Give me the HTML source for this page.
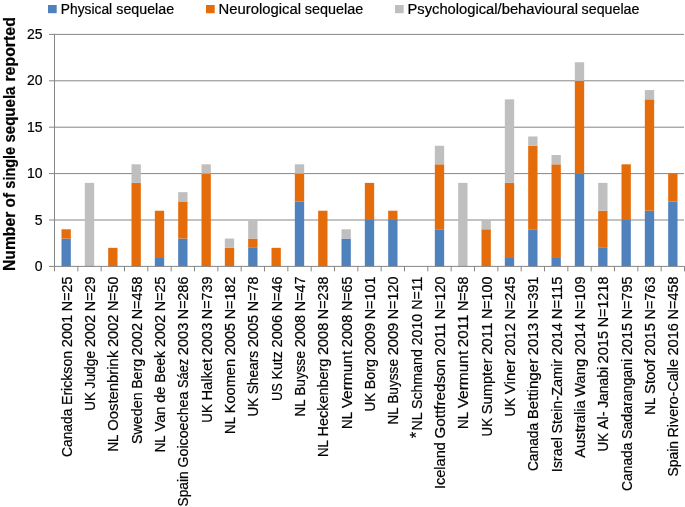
<!DOCTYPE html><html><head><meta charset="utf-8"><style>html,body{margin:0;padding:0;background:#fff;}svg{display:block;will-change:transform;}text{font-family:"Liberation Sans",sans-serif;stroke:#000;stroke-width:0.2;}</style></head><body>
<svg width="685" height="507" viewBox="0 0 685 507">
<rect width="685" height="507" fill="#fff"/>
<line x1="49" y1="220.00" x2="684" y2="220.00" stroke="#868686" stroke-width="1"/>
<line x1="49" y1="173.60" x2="684" y2="173.60" stroke="#868686" stroke-width="1"/>
<line x1="49" y1="127.20" x2="684" y2="127.20" stroke="#868686" stroke-width="1"/>
<line x1="49" y1="80.80" x2="684" y2="80.80" stroke="#868686" stroke-width="1"/>
<line x1="49" y1="34.40" x2="684" y2="34.40" stroke="#868686" stroke-width="1"/>
<rect x="61.50" y="238.56" width="9.33" height="27.84" fill="#4F81BD"/>
<rect x="61.50" y="229.28" width="9.33" height="9.28" fill="#E46C0A"/>
<rect x="84.83" y="182.88" width="9.33" height="83.52" fill="#BFBFBF"/>
<rect x="108.17" y="247.84" width="9.33" height="18.56" fill="#E46C0A"/>
<rect x="131.50" y="182.88" width="9.33" height="83.52" fill="#E46C0A"/>
<rect x="131.50" y="164.32" width="9.33" height="18.56" fill="#BFBFBF"/>
<rect x="154.83" y="257.12" width="9.33" height="9.28" fill="#4F81BD"/>
<rect x="154.83" y="210.72" width="9.33" height="46.40" fill="#E46C0A"/>
<rect x="178.17" y="238.56" width="9.33" height="27.84" fill="#4F81BD"/>
<rect x="178.17" y="201.44" width="9.33" height="37.12" fill="#E46C0A"/>
<rect x="178.17" y="192.16" width="9.33" height="9.28" fill="#BFBFBF"/>
<rect x="201.50" y="173.60" width="9.33" height="92.80" fill="#E46C0A"/>
<rect x="201.50" y="164.32" width="9.33" height="9.28" fill="#BFBFBF"/>
<rect x="224.83" y="247.84" width="9.33" height="18.56" fill="#E46C0A"/>
<rect x="224.83" y="238.56" width="9.33" height="9.28" fill="#BFBFBF"/>
<rect x="248.17" y="247.84" width="9.33" height="18.56" fill="#4F81BD"/>
<rect x="248.17" y="238.56" width="9.33" height="9.28" fill="#E46C0A"/>
<rect x="248.17" y="220.00" width="9.33" height="18.56" fill="#BFBFBF"/>
<rect x="271.50" y="247.84" width="9.33" height="18.56" fill="#E46C0A"/>
<rect x="294.83" y="201.44" width="9.33" height="64.96" fill="#4F81BD"/>
<rect x="294.83" y="173.60" width="9.33" height="27.84" fill="#E46C0A"/>
<rect x="294.83" y="164.32" width="9.33" height="9.28" fill="#BFBFBF"/>
<rect x="318.17" y="210.72" width="9.33" height="55.68" fill="#E46C0A"/>
<rect x="341.50" y="238.56" width="9.33" height="27.84" fill="#4F81BD"/>
<rect x="341.50" y="229.28" width="9.33" height="9.28" fill="#BFBFBF"/>
<rect x="364.83" y="220.00" width="9.33" height="46.40" fill="#4F81BD"/>
<rect x="364.83" y="182.88" width="9.33" height="37.12" fill="#E46C0A"/>
<rect x="388.17" y="220.00" width="9.33" height="46.40" fill="#4F81BD"/>
<rect x="388.17" y="210.72" width="9.33" height="9.28" fill="#E46C0A"/>
<rect x="434.83" y="229.28" width="9.33" height="37.12" fill="#4F81BD"/>
<rect x="434.83" y="164.32" width="9.33" height="64.96" fill="#E46C0A"/>
<rect x="434.83" y="145.76" width="9.33" height="18.56" fill="#BFBFBF"/>
<rect x="458.17" y="182.88" width="9.33" height="83.52" fill="#BFBFBF"/>
<rect x="481.50" y="229.28" width="9.33" height="37.12" fill="#E46C0A"/>
<rect x="481.50" y="220.00" width="9.33" height="9.28" fill="#BFBFBF"/>
<rect x="504.83" y="257.12" width="9.33" height="9.28" fill="#4F81BD"/>
<rect x="504.83" y="182.88" width="9.33" height="74.24" fill="#E46C0A"/>
<rect x="504.83" y="99.36" width="9.33" height="83.52" fill="#BFBFBF"/>
<rect x="528.17" y="229.28" width="9.33" height="37.12" fill="#4F81BD"/>
<rect x="528.17" y="145.76" width="9.33" height="83.52" fill="#E46C0A"/>
<rect x="528.17" y="136.48" width="9.33" height="9.28" fill="#BFBFBF"/>
<rect x="551.50" y="257.12" width="9.33" height="9.28" fill="#4F81BD"/>
<rect x="551.50" y="164.32" width="9.33" height="92.80" fill="#E46C0A"/>
<rect x="551.50" y="155.04" width="9.33" height="9.28" fill="#BFBFBF"/>
<rect x="574.83" y="173.60" width="9.33" height="92.80" fill="#4F81BD"/>
<rect x="574.83" y="80.80" width="9.33" height="92.80" fill="#E46C0A"/>
<rect x="574.83" y="62.24" width="9.33" height="18.56" fill="#BFBFBF"/>
<rect x="598.17" y="247.84" width="9.33" height="18.56" fill="#4F81BD"/>
<rect x="598.17" y="210.72" width="9.33" height="37.12" fill="#E46C0A"/>
<rect x="598.17" y="182.88" width="9.33" height="27.84" fill="#BFBFBF"/>
<rect x="621.50" y="220.00" width="9.33" height="46.40" fill="#4F81BD"/>
<rect x="621.50" y="164.32" width="9.33" height="55.68" fill="#E46C0A"/>
<rect x="644.83" y="210.72" width="9.33" height="55.68" fill="#4F81BD"/>
<rect x="644.83" y="99.36" width="9.33" height="111.36" fill="#E46C0A"/>
<rect x="644.83" y="90.08" width="9.33" height="9.28" fill="#BFBFBF"/>
<rect x="668.17" y="201.44" width="9.33" height="64.96" fill="#4F81BD"/>
<rect x="668.17" y="173.60" width="9.33" height="27.84" fill="#E46C0A"/>
<line x1="54.5" y1="33.90" x2="54.5" y2="266.40" stroke="#868686" stroke-width="1"/>
<line x1="49" y1="266.40" x2="684.8" y2="266.40" stroke="#868686" stroke-width="1"/>
<line x1="54.50" y1="266.40" x2="54.50" y2="271.40" stroke="#868686" stroke-width="1"/>
<line x1="77.83" y1="266.40" x2="77.83" y2="271.40" stroke="#868686" stroke-width="1"/>
<line x1="101.17" y1="266.40" x2="101.17" y2="271.40" stroke="#868686" stroke-width="1"/>
<line x1="124.50" y1="266.40" x2="124.50" y2="271.40" stroke="#868686" stroke-width="1"/>
<line x1="147.83" y1="266.40" x2="147.83" y2="271.40" stroke="#868686" stroke-width="1"/>
<line x1="171.17" y1="266.40" x2="171.17" y2="271.40" stroke="#868686" stroke-width="1"/>
<line x1="194.50" y1="266.40" x2="194.50" y2="271.40" stroke="#868686" stroke-width="1"/>
<line x1="217.83" y1="266.40" x2="217.83" y2="271.40" stroke="#868686" stroke-width="1"/>
<line x1="241.17" y1="266.40" x2="241.17" y2="271.40" stroke="#868686" stroke-width="1"/>
<line x1="264.50" y1="266.40" x2="264.50" y2="271.40" stroke="#868686" stroke-width="1"/>
<line x1="287.83" y1="266.40" x2="287.83" y2="271.40" stroke="#868686" stroke-width="1"/>
<line x1="311.17" y1="266.40" x2="311.17" y2="271.40" stroke="#868686" stroke-width="1"/>
<line x1="334.50" y1="266.40" x2="334.50" y2="271.40" stroke="#868686" stroke-width="1"/>
<line x1="357.83" y1="266.40" x2="357.83" y2="271.40" stroke="#868686" stroke-width="1"/>
<line x1="381.17" y1="266.40" x2="381.17" y2="271.40" stroke="#868686" stroke-width="1"/>
<line x1="404.50" y1="266.40" x2="404.50" y2="271.40" stroke="#868686" stroke-width="1"/>
<line x1="427.83" y1="266.40" x2="427.83" y2="271.40" stroke="#868686" stroke-width="1"/>
<line x1="451.17" y1="266.40" x2="451.17" y2="271.40" stroke="#868686" stroke-width="1"/>
<line x1="474.50" y1="266.40" x2="474.50" y2="271.40" stroke="#868686" stroke-width="1"/>
<line x1="497.83" y1="266.40" x2="497.83" y2="271.40" stroke="#868686" stroke-width="1"/>
<line x1="521.17" y1="266.40" x2="521.17" y2="271.40" stroke="#868686" stroke-width="1"/>
<line x1="544.50" y1="266.40" x2="544.50" y2="271.40" stroke="#868686" stroke-width="1"/>
<line x1="567.83" y1="266.40" x2="567.83" y2="271.40" stroke="#868686" stroke-width="1"/>
<line x1="591.17" y1="266.40" x2="591.17" y2="271.40" stroke="#868686" stroke-width="1"/>
<line x1="614.50" y1="266.40" x2="614.50" y2="271.40" stroke="#868686" stroke-width="1"/>
<line x1="637.83" y1="266.40" x2="637.83" y2="271.40" stroke="#868686" stroke-width="1"/>
<line x1="661.17" y1="266.40" x2="661.17" y2="271.40" stroke="#868686" stroke-width="1"/>
<line x1="684.50" y1="266.40" x2="684.50" y2="271.40" stroke="#868686" stroke-width="1"/>
<text x="42.5" y="270.90" font-size="14" text-anchor="end" fill="#000">0</text>
<text x="42.5" y="224.50" font-size="14" text-anchor="end" fill="#000">5</text>
<text x="42.5" y="178.10" font-size="14" text-anchor="end" fill="#000">10</text>
<text x="42.5" y="131.70" font-size="14" text-anchor="end" fill="#000">15</text>
<text x="42.5" y="85.30" font-size="14" text-anchor="end" fill="#000">20</text>
<text x="42.5" y="38.90" font-size="14" text-anchor="end" fill="#000">25</text>
<text transform="translate(71.77,457.00) rotate(-90)" font-size="14" textLength="48.34" lengthAdjust="spacingAndGlyphs" fill="#000">Canada</text>
<text transform="translate(71.77,405.05) rotate(-90)" font-size="14" textLength="54.21" lengthAdjust="spacingAndGlyphs" fill="#000">Erickson</text>
<text transform="translate(71.77,347.22) rotate(-90)" font-size="14" textLength="32.46" lengthAdjust="spacingAndGlyphs" fill="#000">2001</text>
<text transform="translate(71.77,311.14) rotate(-90)" font-size="14" textLength="34.54" lengthAdjust="spacingAndGlyphs" fill="#000">N=25</text>
<text transform="translate(95.10,410.70) rotate(-90)" font-size="14" textLength="18.63" lengthAdjust="spacingAndGlyphs" fill="#000">UK</text>
<text transform="translate(95.10,388.45) rotate(-90)" font-size="14" textLength="37.49" lengthAdjust="spacingAndGlyphs" fill="#000">Judge</text>
<text transform="translate(95.10,347.34) rotate(-90)" font-size="14" textLength="32.51" lengthAdjust="spacingAndGlyphs" fill="#000">2002</text>
<text transform="translate(95.10,311.20) rotate(-90)" font-size="14" textLength="34.60" lengthAdjust="spacingAndGlyphs" fill="#000">N=29</text>
<text transform="translate(118.43,451.50) rotate(-90)" font-size="14" textLength="17.03" lengthAdjust="spacingAndGlyphs" fill="#000">NL</text>
<text transform="translate(118.43,430.87) rotate(-90)" font-size="14" textLength="80.19" lengthAdjust="spacingAndGlyphs" fill="#000">Oostenbrink</text>
<text transform="translate(118.43,347.06) rotate(-90)" font-size="14" textLength="32.39" lengthAdjust="spacingAndGlyphs" fill="#000">2002</text>
<text transform="translate(118.43,311.07) rotate(-90)" font-size="14" textLength="34.47" lengthAdjust="spacingAndGlyphs" fill="#000">N=50</text>
<text transform="translate(141.77,444.00) rotate(-90)" font-size="14" textLength="51.57" lengthAdjust="spacingAndGlyphs" fill="#000">Sweden</text>
<text transform="translate(141.77,388.81) rotate(-90)" font-size="14" textLength="29.82" lengthAdjust="spacingAndGlyphs" fill="#000">Berg</text>
<text transform="translate(141.77,355.38) rotate(-90)" font-size="14" textLength="32.48" lengthAdjust="spacingAndGlyphs" fill="#000">2002</text>
<text transform="translate(141.77,319.28) rotate(-90)" font-size="14" textLength="42.68" lengthAdjust="spacingAndGlyphs" fill="#000">N=458</text>
<text transform="translate(165.10,452.30) rotate(-90)" font-size="14" textLength="17.07" lengthAdjust="spacingAndGlyphs" fill="#000">NL</text>
<text transform="translate(165.10,431.61) rotate(-90)" font-size="14" textLength="25.16" lengthAdjust="spacingAndGlyphs" fill="#000">Van</text>
<text transform="translate(165.10,402.83) rotate(-90)" font-size="14" textLength="16.38" lengthAdjust="spacingAndGlyphs" fill="#000">de</text>
<text transform="translate(165.10,382.83) rotate(-90)" font-size="14" textLength="31.95" lengthAdjust="spacingAndGlyphs" fill="#000">Beek</text>
<text transform="translate(165.10,347.26) rotate(-90)" font-size="14" textLength="32.48" lengthAdjust="spacingAndGlyphs" fill="#000">2002</text>
<text transform="translate(165.10,311.16) rotate(-90)" font-size="14" textLength="34.56" lengthAdjust="spacingAndGlyphs" fill="#000">N=25</text>
<text transform="translate(188.43,506.60) rotate(-90)" font-size="14" textLength="35.40" lengthAdjust="spacingAndGlyphs" fill="#000">Spain</text>
<text transform="translate(188.43,467.59) rotate(-90)" font-size="14" textLength="76.00" lengthAdjust="spacingAndGlyphs" fill="#000">Goicoechea</text>
<text transform="translate(188.43,387.98) rotate(-90)" font-size="14" textLength="29.23" lengthAdjust="spacingAndGlyphs" fill="#000">Sáez</text>
<text transform="translate(188.43,355.14) rotate(-90)" font-size="14" textLength="32.38" lengthAdjust="spacingAndGlyphs" fill="#000">2003</text>
<text transform="translate(188.43,319.15) rotate(-90)" font-size="14" textLength="42.55" lengthAdjust="spacingAndGlyphs" fill="#000">N=286</text>
<text transform="translate(211.77,422.70) rotate(-90)" font-size="14" textLength="18.55" lengthAdjust="spacingAndGlyphs" fill="#000">UK</text>
<text transform="translate(211.77,400.54) rotate(-90)" font-size="14" textLength="41.81" lengthAdjust="spacingAndGlyphs" fill="#000">Halket</text>
<text transform="translate(211.77,355.13) rotate(-90)" font-size="14" textLength="32.37" lengthAdjust="spacingAndGlyphs" fill="#000">2003</text>
<text transform="translate(211.77,319.14) rotate(-90)" font-size="14" textLength="42.54" lengthAdjust="spacingAndGlyphs" fill="#000">N=739</text>
<text transform="translate(235.10,434.00) rotate(-90)" font-size="14" textLength="17.06" lengthAdjust="spacingAndGlyphs" fill="#000">NL</text>
<text transform="translate(235.10,413.32) rotate(-90)" font-size="14" textLength="54.36" lengthAdjust="spacingAndGlyphs" fill="#000">Koomen</text>
<text transform="translate(235.10,355.34) rotate(-90)" font-size="14" textLength="32.46" lengthAdjust="spacingAndGlyphs" fill="#000">2005</text>
<text transform="translate(235.10,319.26) rotate(-90)" font-size="14" textLength="42.66" lengthAdjust="spacingAndGlyphs" fill="#000">N=182</text>
<text transform="translate(258.43,416.50) rotate(-90)" font-size="14" textLength="18.63" lengthAdjust="spacingAndGlyphs" fill="#000">UK</text>
<text transform="translate(258.43,394.25) rotate(-90)" font-size="14" textLength="43.30" lengthAdjust="spacingAndGlyphs" fill="#000">Shears</text>
<text transform="translate(258.43,347.33) rotate(-90)" font-size="14" textLength="32.51" lengthAdjust="spacingAndGlyphs" fill="#000">2005</text>
<text transform="translate(258.43,311.19) rotate(-90)" font-size="14" textLength="34.59" lengthAdjust="spacingAndGlyphs" fill="#000">N=78</text>
<text transform="translate(281.77,400.90) rotate(-90)" font-size="14" textLength="17.68" lengthAdjust="spacingAndGlyphs" fill="#000">US</text>
<text transform="translate(281.77,379.59) rotate(-90)" font-size="14" textLength="28.51" lengthAdjust="spacingAndGlyphs" fill="#000">Kutz</text>
<text transform="translate(281.77,347.45) rotate(-90)" font-size="14" textLength="32.57" lengthAdjust="spacingAndGlyphs" fill="#000">2006</text>
<text transform="translate(281.77,311.26) rotate(-90)" font-size="14" textLength="34.66" lengthAdjust="spacingAndGlyphs" fill="#000">N=46</text>
<text transform="translate(305.10,416.50) rotate(-90)" font-size="14" textLength="17.08" lengthAdjust="spacingAndGlyphs" fill="#000">NL</text>
<text transform="translate(305.10,395.80) rotate(-90)" font-size="14" textLength="44.89" lengthAdjust="spacingAndGlyphs" fill="#000">Buysse</text>
<text transform="translate(305.10,347.29) rotate(-90)" font-size="14" textLength="32.49" lengthAdjust="spacingAndGlyphs" fill="#000">2008</text>
<text transform="translate(305.10,311.17) rotate(-90)" font-size="14" textLength="34.57" lengthAdjust="spacingAndGlyphs" fill="#000">N=47</text>
<text transform="translate(328.43,457.00) rotate(-90)" font-size="14" textLength="17.02" lengthAdjust="spacingAndGlyphs" fill="#000">NL</text>
<text transform="translate(328.43,436.38) rotate(-90)" font-size="14" textLength="77.65" lengthAdjust="spacingAndGlyphs" fill="#000">Heckenberg</text>
<text transform="translate(328.43,355.12) rotate(-90)" font-size="14" textLength="32.37" lengthAdjust="spacingAndGlyphs" fill="#000">2008</text>
<text transform="translate(328.43,319.14) rotate(-90)" font-size="14" textLength="42.54" lengthAdjust="spacingAndGlyphs" fill="#000">N=238</text>
<text transform="translate(351.77,429.00) rotate(-90)" font-size="14" textLength="17.05" lengthAdjust="spacingAndGlyphs" fill="#000">NL</text>
<text transform="translate(351.77,408.33) rotate(-90)" font-size="14" textLength="57.55" lengthAdjust="spacingAndGlyphs" fill="#000">Vermunt</text>
<text transform="translate(351.77,347.17) rotate(-90)" font-size="14" textLength="32.44" lengthAdjust="spacingAndGlyphs" fill="#000">2008</text>
<text transform="translate(351.77,311.12) rotate(-90)" font-size="14" textLength="34.52" lengthAdjust="spacingAndGlyphs" fill="#000">N=65</text>
<text transform="translate(375.10,411.50) rotate(-90)" font-size="14" textLength="18.61" lengthAdjust="spacingAndGlyphs" fill="#000">UK</text>
<text transform="translate(375.10,389.27) rotate(-90)" font-size="14" textLength="30.28" lengthAdjust="spacingAndGlyphs" fill="#000">Borg</text>
<text transform="translate(375.10,355.37) rotate(-90)" font-size="14" textLength="32.48" lengthAdjust="spacingAndGlyphs" fill="#000">2009</text>
<text transform="translate(375.10,319.28) rotate(-90)" font-size="14" textLength="42.68" lengthAdjust="spacingAndGlyphs" fill="#000">N=101</text>
<text transform="translate(398.43,424.50) rotate(-90)" font-size="14" textLength="17.06" lengthAdjust="spacingAndGlyphs" fill="#000">NL</text>
<text transform="translate(398.43,403.82) rotate(-90)" font-size="14" textLength="44.86" lengthAdjust="spacingAndGlyphs" fill="#000">Buysse</text>
<text transform="translate(398.43,355.34) rotate(-90)" font-size="14" textLength="32.46" lengthAdjust="spacingAndGlyphs" fill="#000">2009</text>
<text transform="translate(398.43,319.26) rotate(-90)" font-size="14" textLength="42.66" lengthAdjust="spacingAndGlyphs" fill="#000">N=120</text>
<text transform="translate(421.77,276.60) rotate(-90)" font-size="14" text-anchor="end" textLength="154.00" lengthAdjust="spacingAndGlyphs" fill="#000">NL Schmand 2010 N=11</text>
<text transform="translate(422.07,438.30) rotate(-90)" font-size="16.5" fill="#000">*</text>
<text transform="translate(445.10,489.10) rotate(-90)" font-size="14" textLength="47.01" lengthAdjust="spacingAndGlyphs" fill="#000">Iceland</text>
<text transform="translate(445.10,438.47) rotate(-90)" font-size="14" textLength="79.35" lengthAdjust="spacingAndGlyphs" fill="#000">Gottfredson</text>
<text transform="translate(445.10,355.49) rotate(-90)" font-size="14" textLength="32.52" lengthAdjust="spacingAndGlyphs" fill="#000">2011</text>
<text transform="translate(445.10,319.34) rotate(-90)" font-size="14" textLength="42.74" lengthAdjust="spacingAndGlyphs" fill="#000">N=120</text>
<text transform="translate(468.43,429.00) rotate(-90)" font-size="14" textLength="17.05" lengthAdjust="spacingAndGlyphs" fill="#000">NL</text>
<text transform="translate(468.43,408.33) rotate(-90)" font-size="14" textLength="57.55" lengthAdjust="spacingAndGlyphs" fill="#000">Vermunt</text>
<text transform="translate(468.43,347.17) rotate(-90)" font-size="14" textLength="32.44" lengthAdjust="spacingAndGlyphs" fill="#000">2011</text>
<text transform="translate(468.43,311.12) rotate(-90)" font-size="14" textLength="34.52" lengthAdjust="spacingAndGlyphs" fill="#000">N=58</text>
<text transform="translate(491.77,436.50) rotate(-90)" font-size="14" textLength="18.54" lengthAdjust="spacingAndGlyphs" fill="#000">UK</text>
<text transform="translate(491.77,414.36) rotate(-90)" font-size="14" textLength="55.68" lengthAdjust="spacingAndGlyphs" fill="#000">Sumpter</text>
<text transform="translate(491.77,355.07) rotate(-90)" font-size="14" textLength="32.35" lengthAdjust="spacingAndGlyphs" fill="#000">2011</text>
<text transform="translate(491.77,319.12) rotate(-90)" font-size="14" textLength="42.52" lengthAdjust="spacingAndGlyphs" fill="#000">N=100</text>
<text transform="translate(515.10,416.50) rotate(-90)" font-size="14" textLength="18.68" lengthAdjust="spacingAndGlyphs" fill="#000">UK</text>
<text transform="translate(515.10,394.18) rotate(-90)" font-size="14" textLength="34.86" lengthAdjust="spacingAndGlyphs" fill="#000">Viner</text>
<text transform="translate(515.10,355.69) rotate(-90)" font-size="14" textLength="32.61" lengthAdjust="spacingAndGlyphs" fill="#000">2012</text>
<text transform="translate(515.10,319.45) rotate(-90)" font-size="14" textLength="42.85" lengthAdjust="spacingAndGlyphs" fill="#000">N=245</text>
<text transform="translate(538.43,471.10) rotate(-90)" font-size="14" textLength="48.25" lengthAdjust="spacingAndGlyphs" fill="#000">Canada</text>
<text transform="translate(538.43,419.24) rotate(-90)" font-size="14" textLength="60.45" lengthAdjust="spacingAndGlyphs" fill="#000">Bettinger</text>
<text transform="translate(538.43,355.18) rotate(-90)" font-size="14" textLength="32.40" lengthAdjust="spacingAndGlyphs" fill="#000">2013</text>
<text transform="translate(538.43,319.17) rotate(-90)" font-size="14" textLength="42.57" lengthAdjust="spacingAndGlyphs" fill="#000">N=391</text>
<text transform="translate(561.77,472.30) rotate(-90)" font-size="14" textLength="35.13" lengthAdjust="spacingAndGlyphs" fill="#000">Israel</text>
<text transform="translate(561.77,433.56) rotate(-90)" font-size="14" textLength="74.73" lengthAdjust="spacingAndGlyphs" fill="#000">Stein-Zamir</text>
<text transform="translate(561.77,355.22) rotate(-90)" font-size="14" textLength="32.41" lengthAdjust="spacingAndGlyphs" fill="#000">2014</text>
<text transform="translate(561.77,319.19) rotate(-90)" font-size="14" textLength="42.59" lengthAdjust="spacingAndGlyphs" fill="#000">N=115</text>
<text transform="translate(585.10,457.80) rotate(-90)" font-size="14" textLength="57.49" lengthAdjust="spacingAndGlyphs" fill="#000">Australia</text>
<text transform="translate(585.10,396.70) rotate(-90)" font-size="14" textLength="37.82" lengthAdjust="spacingAndGlyphs" fill="#000">Wang</text>
<text transform="translate(585.10,355.26) rotate(-90)" font-size="14" textLength="32.43" lengthAdjust="spacingAndGlyphs" fill="#000">2014</text>
<text transform="translate(585.10,319.22) rotate(-90)" font-size="14" textLength="42.62" lengthAdjust="spacingAndGlyphs" fill="#000">N=109</text>
<text transform="translate(608.43,451.50) rotate(-90)" font-size="14" textLength="18.58" lengthAdjust="spacingAndGlyphs" fill="#000">UK</text>
<text transform="translate(608.43,429.30) rotate(-90)" font-size="14" textLength="17.82" lengthAdjust="spacingAndGlyphs" fill="#000">Al-</text>
<text transform="translate(608.43,407.87) rotate(-90)" font-size="14" textLength="40.88" lengthAdjust="spacingAndGlyphs" fill="#000">Janabi</text>
<text transform="translate(608.43,363.38) rotate(-90)" font-size="14" textLength="32.43" lengthAdjust="spacingAndGlyphs" fill="#000">2015</text>
<text transform="translate(608.43,327.33) rotate(-90)" font-size="14" textLength="50.73" lengthAdjust="spacingAndGlyphs" fill="#000">N=1218</text>
<text transform="translate(631.77,490.90) rotate(-90)" font-size="14" textLength="48.33" lengthAdjust="spacingAndGlyphs" fill="#000">Canada</text>
<text transform="translate(631.77,438.95) rotate(-90)" font-size="14" textLength="80.01" lengthAdjust="spacingAndGlyphs" fill="#000">Sadarangani</text>
<text transform="translate(631.77,355.33) rotate(-90)" font-size="14" textLength="32.46" lengthAdjust="spacingAndGlyphs" fill="#000">2015</text>
<text transform="translate(631.77,319.25) rotate(-90)" font-size="14" textLength="42.65" lengthAdjust="spacingAndGlyphs" fill="#000">N=795</text>
<text transform="translate(655.10,414.70) rotate(-90)" font-size="14" textLength="17.14" lengthAdjust="spacingAndGlyphs" fill="#000">NL</text>
<text transform="translate(655.10,393.93) rotate(-90)" font-size="14" textLength="34.61" lengthAdjust="spacingAndGlyphs" fill="#000">Stoof</text>
<text transform="translate(655.10,355.68) rotate(-90)" font-size="14" textLength="32.60" lengthAdjust="spacingAndGlyphs" fill="#000">2015</text>
<text transform="translate(655.10,319.44) rotate(-90)" font-size="14" textLength="42.84" lengthAdjust="spacingAndGlyphs" fill="#000">N=763</text>
<text transform="translate(678.43,476.60) rotate(-90)" font-size="14" textLength="35.59" lengthAdjust="spacingAndGlyphs" fill="#000">Spain</text>
<text transform="translate(678.43,437.39) rotate(-90)" font-size="14" textLength="78.20" lengthAdjust="spacingAndGlyphs" fill="#000">Rivero-Calle</text>
<text transform="translate(678.43,355.56) rotate(-90)" font-size="14" textLength="32.55" lengthAdjust="spacingAndGlyphs" fill="#000">2016</text>
<text transform="translate(678.43,319.38) rotate(-90)" font-size="14" textLength="42.78" lengthAdjust="spacingAndGlyphs" fill="#000">N=458</text>
<text transform="translate(14.7,271.05) rotate(-90)" font-size="16" font-weight="bold" textLength="59.33" lengthAdjust="spacingAndGlyphs" fill="#000">Number</text>
<text transform="translate(14.7,207.40) rotate(-90)" font-size="16" font-weight="bold" textLength="14.35" lengthAdjust="spacingAndGlyphs" fill="#000">of</text>
<text transform="translate(14.7,188.65) rotate(-90)" font-size="16" font-weight="bold" textLength="41.74" lengthAdjust="spacingAndGlyphs" fill="#000">single</text>
<text transform="translate(14.7,142.61) rotate(-90)" font-size="16" font-weight="bold" textLength="56.10" lengthAdjust="spacingAndGlyphs" fill="#000">sequela</text>
<text transform="translate(14.7,81.61) rotate(-90)" font-size="16" font-weight="bold" textLength="64.49" lengthAdjust="spacingAndGlyphs" fill="#000">reported</text>
<rect x="48" y="5" width="8.7" height="8.2" fill="#4F81BD"/>
<rect x="206" y="5" width="8.7" height="8.2" fill="#E46C0A"/>
<rect x="395" y="5" width="8.7" height="8.2" fill="#BFBFBF"/>
<text x="60.78" y="13.7" font-size="14" textLength="51.40" lengthAdjust="spacingAndGlyphs" fill="#000">Physical</text>
<text x="116.30" y="13.7" font-size="14" textLength="57.79" lengthAdjust="spacingAndGlyphs" fill="#000">sequelae</text>
<text x="218.61" y="13.7" font-size="14" textLength="82.39" lengthAdjust="spacingAndGlyphs" fill="#000">Neurological</text>
<text x="304.75" y="13.7" font-size="14" textLength="58.40" lengthAdjust="spacingAndGlyphs" fill="#000">sequelae</text>
<text x="407.46" y="13.7" font-size="14" textLength="170.45" lengthAdjust="spacingAndGlyphs" fill="#000">Psychological/behavioural</text>
<text x="581.60" y="13.7" font-size="14" textLength="57.83" lengthAdjust="spacingAndGlyphs" fill="#000">sequelae</text>
</svg></body></html>
